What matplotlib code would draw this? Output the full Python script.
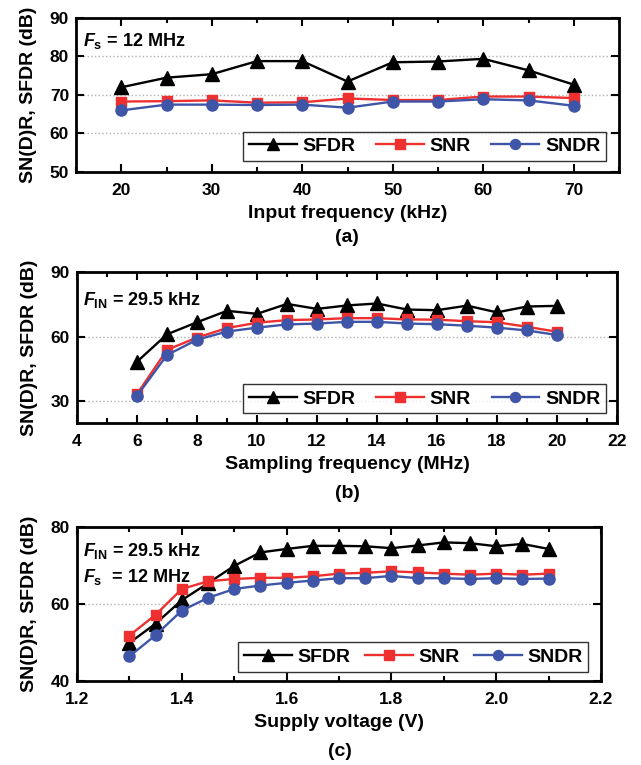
import matplotlib
matplotlib.use("Agg")
import matplotlib.pyplot as plt
from matplotlib.ticker import MultipleLocator, FormatStrFormatter

plt.rcParams['font.family'] = ['Liberation Sans', 'DejaVu Sans']
plt.rcParams['font.weight'] = 'bold'
plt.rcParams['mathtext.fontset'] = 'custom'
plt.rcParams['mathtext.rm'] = 'Liberation Sans:bold'
plt.rcParams['mathtext.it'] = 'Liberation Sans:italic:bold'
plt.rcParams['mathtext.bf'] = 'Liberation Sans:bold'

# (a) input frequency sweep
fin = [20, 25, 30, 35, 40, 45, 50, 55, 60, 65, 70]
sfdr_a = [72.0, 74.5, 75.4, 78.8, 78.8, 73.5, 78.5, 78.7, 79.4, 76.4, 72.7]
snr_a = [68.3, 68.4, 68.6, 68.0, 68.1, 69.1, 68.7, 68.7, 69.6, 69.6, 69.2]
sndr_a = [66.0, 67.5, 67.5, 67.4, 67.5, 66.7, 68.3, 68.3, 68.9, 68.6, 67.2]

# (b) sampling frequency sweep
fs = [6, 7, 8, 9, 10, 11, 12, 13, 14, 15, 16, 17, 18, 19, 20]
sfdr_b = [48.4, 61.1, 66.7, 72.0, 70.6, 75.2, 72.9, 74.5, 75.4, 72.6, 72.3, 74.4, 71.3, 74.0, 74.3]
snr_b = [33.4, 53.9, 59.6, 64.0, 66.5, 67.7, 68.0, 68.6, 68.6, 68.0, 67.9, 67.2, 66.7, 64.6, 62.3]
sndr_b = [32.6, 51.5, 58.6, 62.4, 64.2, 65.7, 66.1, 66.9, 66.9, 66.1, 65.8, 65.1, 64.2, 62.9, 60.8]

# (c) supply voltage sweep
vdd = [1.3, 1.35, 1.4, 1.45, 1.5, 1.55, 1.6, 1.65, 1.7, 1.75, 1.8, 1.85, 1.9, 1.95, 2.0, 2.05, 2.1]
sfdr_c = [49.9, 54.9, 61.0, 65.4, 69.9, 73.4, 74.3, 75.1, 75.1, 75.0, 74.5, 75.2, 76.0, 75.8, 75.0, 75.6, 74.3]
snr_c = [51.8, 57.2, 63.9, 65.9, 66.5, 66.8, 66.8, 67.2, 67.9, 68.1, 68.5, 68.2, 67.9, 67.6, 67.9, 67.6, 67.9]
sndr_c = [46.4, 51.9, 58.3, 61.6, 63.9, 64.8, 65.5, 66.1, 66.7, 66.7, 67.3, 66.7, 66.7, 66.5, 66.7, 66.5, 66.6]

RED = '#ee3030'
BLUE = '#3f55a7'

W, H = 641, 765
fig = plt.figure(figsize=(W / 100, H / 100), dpi=100)


def make_ax(l, r, t, b):
    return fig.add_axes([l / W, 1 - b / H, (r - l) / W, (b - t) / H])


def style(ax, x, sfdr, snr, sndr, xlim, ylim, xmaj, xmin, yticks, xlabel, legbox):
    ax.plot(x, sfdr, '-^', color='black', lw=1.7, ms=10, label='SFDR')
    ax.plot(x, snr, '-s', color=RED, lw=1.7, ms=7.5, label='SNR')
    ax.plot(x, sndr, '-o', color=BLUE, lw=1.7, ms=8, label='SNDR')
    ax.set_xlim(xlim)
    ax.set_ylim(ylim)
    ax.xaxis.set_major_locator(MultipleLocator(xmaj))
    ax.xaxis.set_minor_locator(MultipleLocator(xmin))
    ax.set_yticks(yticks)
    ax.tick_params(which='both', direction='in', top=True, right=True, labelsize=12.5, width=1.5)
    ax.tick_params(axis='x', pad=8)
    ax.tick_params(axis='y', pad=5)
    ax.tick_params(which='major', length=6)
    ax.tick_params(which='minor', length=3.5)
    for s in ax.spines.values():
        s.set_linewidth(2)
    ax.yaxis.grid(True, ls=':', color='#b0b0b0', lw=1)
    ax.set_axisbelow(True)
    ax.set_xlabel(xlabel, fontsize=14, fontweight='bold', labelpad=5)
    ax.set_ylabel('SN(D)R, SFDR (dB)', fontsize=14, fontweight='bold', labelpad=9)
    leg = ax.legend(loc='lower left', bbox_to_anchor=legbox, mode='expand', ncol=3, fontsize=14,
                    frameon=True, fancybox=False, edgecolor='black', markerscale=0.9,
                    handlelength=2.45, handletextpad=0.3, columnspacing=0.5,
                    borderpad=0.3, borderaxespad=0)
    leg.get_frame().set_linewidth(1.0)


ax1 = make_ax(76, 619, 18, 172)
style(ax1, fin, sfdr_a, snr_a, sndr_a, (15, 75), (50, 90), 10, 5, [50, 60, 70, 80, 90],
      'Input frequency (kHz)', (0.308, 0.071, 0.668, 0.195))
ax1.text(0.012, 0.82, r'$\mathit{F}_\mathregular{s}$ = 12 MHz', transform=ax1.transAxes, fontsize=13)

ax2 = make_ax(77, 617, 272, 423)
style(ax2, fs, sfdr_b, snr_b, sndr_b, (4, 22), (20, 90), 2, 1, [30, 60, 90],
      'Sampling frequency (MHz)', (0.308, 0.064, 0.672, 0.203))
ax2.text(0.012, 0.78, r'$\mathit{F}_\mathregular{IN}$ = 29.5 kHz', transform=ax2.transAxes, fontsize=13)

ax3 = make_ax(77, 601, 527, 681)
style(ax3, vdd, sfdr_c, snr_c, sndr_c, (1.2, 2.2), (40, 80), 0.2, 0.1, [40, 60, 80],
      'Supply voltage (V)', (0.308, 0.060, 0.668, 0.21))
ax3.xaxis.set_major_formatter(FormatStrFormatter('%.1f'))
ax3.text(0.012, 0.81, r'$\mathit{F}_\mathregular{IN}$ = 29.5 kHz', transform=ax3.transAxes, fontsize=13)
ax3.text(0.012, 0.645, r'$\mathit{F}_\mathregular{s}$  = 12 MHz', transform=ax3.transAxes, fontsize=13)

for tag, px, py in [('(a)', 347, 238), ('(b)', 347, 493), ('(c)', 340, 752)]:
    fig.text(px / W, 1 - py / H, tag, ha='center', va='center', fontsize=14, fontweight='bold')

fig.savefig('out.png', dpi=100)
